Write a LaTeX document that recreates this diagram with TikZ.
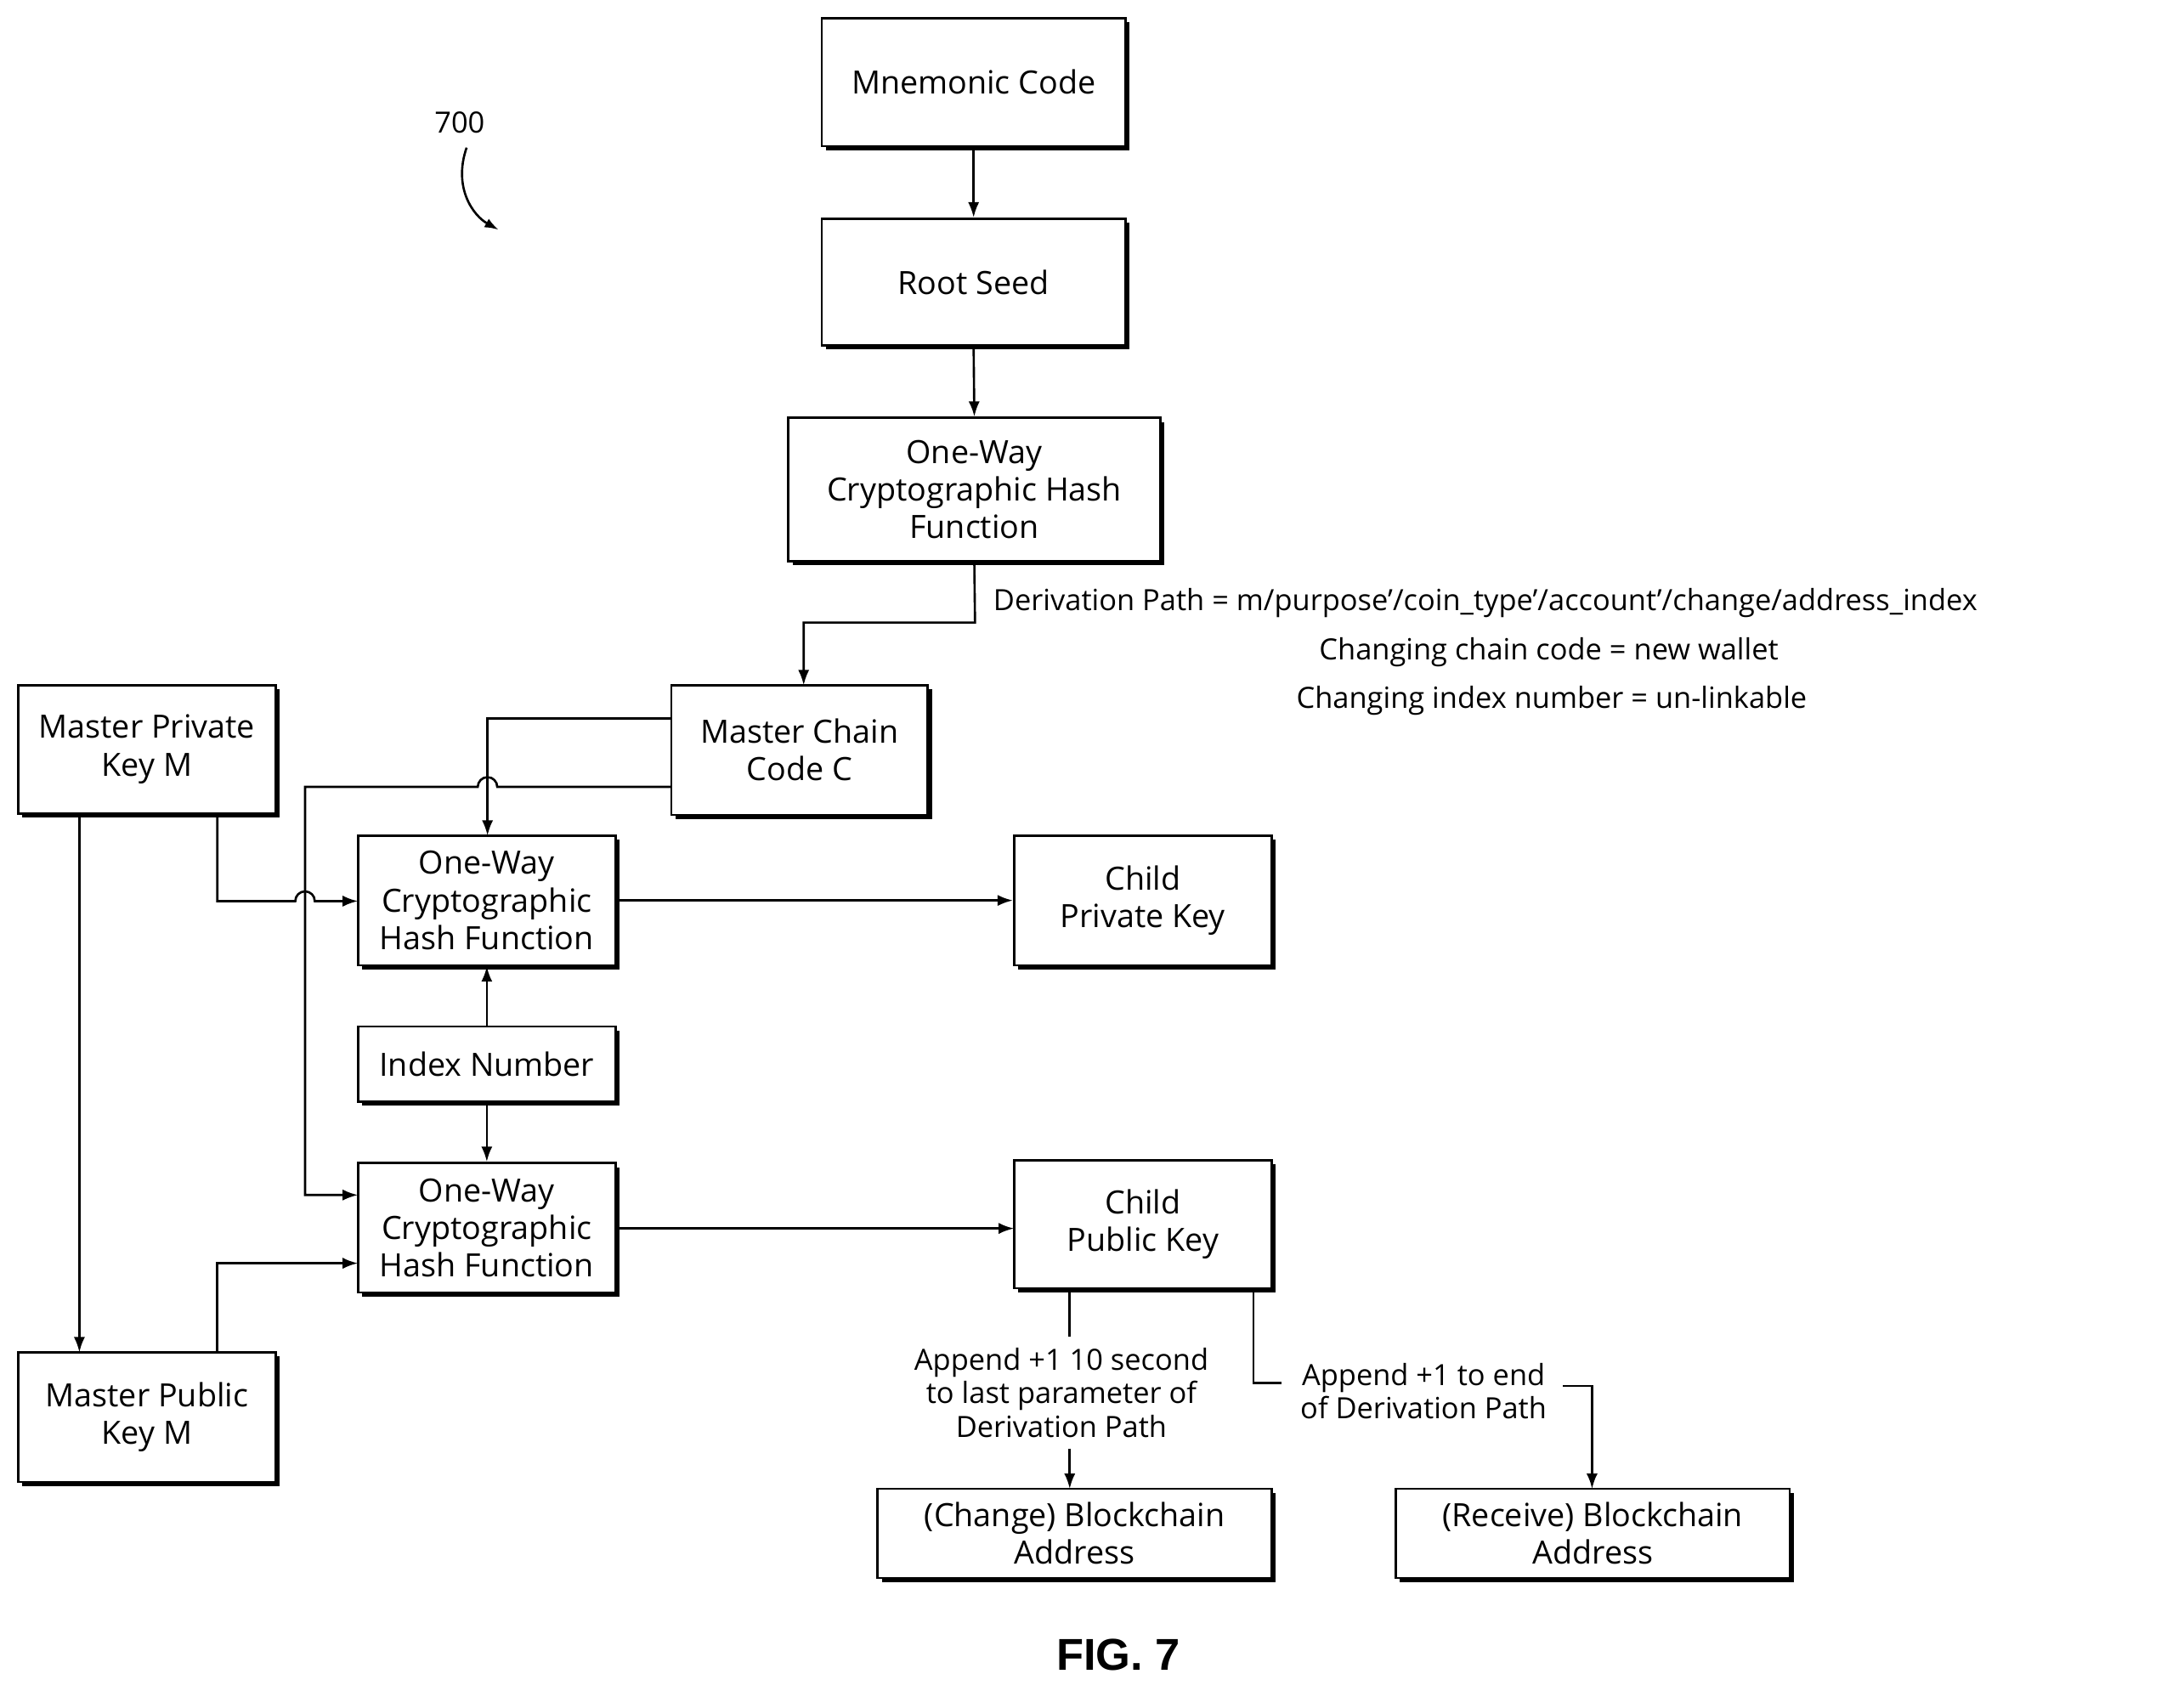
\documentclass[tikz,border=0pt]{standalone}
\usepackage{fontspec}
\setmainfont{Open Sans}
\newfontfamily\figfont{Liberation Sans}
\usetikzlibrary{arrows.meta,shadows}
\begin{document}
\begin{tikzpicture}[x=1pt,y=-1pt,
 box/.style={draw,line width=1.6pt,fill=white,align=center,inner sep=0pt,
   font=\fontsize{23}{27}\selectfont,
   drop shadow={shadow xshift=3pt,shadow yshift=-3pt,fill=black,opacity=1}},
 ln/.style={line width=1.6pt},
 ar/.style={ln,-{Latex[length=11pt,width=8pt]}},
 lab/.style={font=\fontsize{21}{24}\selectfont,align=center,inner sep=1pt}]
\useasboundingbox (0,0) rectangle (1568,1214);
\newcommand\bx[6]{\node[box,minimum width=#4-#2,minimum height=#5-#3] (#1) at ({(#2+#4)/2},{(#3+#5)/2}) {#6};}
\bx{mn}{590}{13}{808}{105}{Mnemonic Code}
\bx{rs}{590}{157}{808}{248}{Root Seed}
\bx{h1}{566}{300}{833}{403}{One-Way\\Cryptographic Hash\\Function}
\bx{cc}{482}{492}{666}{585}{Master Chain\\Code C}
\bx{mp}{13}{492}{198}{584}{Master Private\\Key M}
\bx{h2}{257}{600}{442}{693}{One-Way\\Cryptographic\\Hash Function}
\bx{cp}{728}{600}{913}{693}{Child\\Private Key}
\bx{ix}{257}{737}{442}{791}{Index Number}
\bx{h3}{257}{835}{442}{928}{One-Way\\Cryptographic\\Hash Function}
\bx{cu}{728}{833}{913}{925}{Child\\Public Key}
\bx{mu}{13}{971}{198}{1064}{Master Public\\Key M}
\bx{ca}{630}{1069}{913}{1133}{(Change) Blockchain\\Address}
\bx{ra}{1002}{1069}{1285}{1133}{(Receive) Blockchain\\Address}

\node[lab] (n700) at (330,88) {700};
\coordinate (c700) at (358,165);
\draw[ln,-{Latex[length=10pt,width=7pt]}] (335,106) .. controls (325,135) and (340,155) .. (c700);

\draw[ar] (mn.south) -- (rs.north);
\draw[ar] (rs.south) -- (h1.north);
\draw[ar] (h1.south) -- (700,447) -- (577,447) -- (577,492);
\node[lab,anchor=west] (dp) at (712,433) {Derivation Path = m/purpose’/coin\_type’/account’/change/address\_index};
\node[lab] (t2) at (1112,468) {Changing chain code = new wallet};
\node[lab] (t3) at (1114,503) {Changing index number = un-linkable};

\draw[ar] (482,516) -- (350,516) -- (350,600);
\draw[ar] (482,565) -- (357,565) arc(0:-180:7) -- (219,565) -- (219,858) -- (257,858);
\draw[ar] (156,584) -- (156,647) -- (212,647) arc(180:360:7) -- (257,647);
\draw[ar] (57,584) -- (57,971);
\draw[ar] (156,971) -- (156,907) -- (257,907);
\draw[ar] (h2.east) -- (cp.west);
\draw[ar] (ix.north) -- (h2.south);
\draw[ar] (ix.south) -- (h3.north);
\draw[ar] (442,882) -- (728,882);

\draw[ln] (768,925) -- (768,960);
\node[lab] (l1) at (762,1000) {Append +1 10 second\\to last parameter of\\Derivation Path};
\draw[ar] (768,1040) -- (768,1069);
\draw[ln] (900,925) -- (900,993) -- (920,993);
\node[lab] (l2) at (1022,999) {Append +1 to end\\of Derivation Path};
\draw[ar] (1122,995) -- (1143,995) -- (1143,1069);

\node[font=\figfont\bfseries\fontsize{32}{36}\selectfont] (fig) at (803,1188) {FIG. 7};
\end{tikzpicture}
\end{document}
